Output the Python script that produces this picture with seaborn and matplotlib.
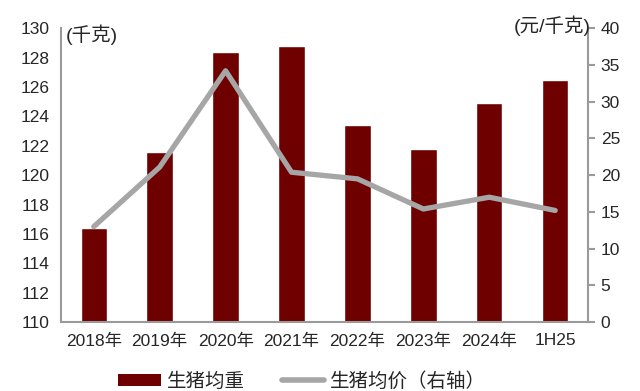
import seaborn as sns
import matplotlib.pyplot as plt
import pandas as pd
from matplotlib.patches import Patch
from matplotlib.lines import Line2D

categories = ['2018年', '2019年', '2020年', '2021年', '2022年', '2023年', '2024年', '1H25']
weight = [116.4, 121.6, 128.4, 128.8, 123.4, 121.8, 124.9, 126.5]   # 生猪均重 (千克)
price = [13.0, 21.1, 34.2, 20.4, 19.5, 15.4, 17.0, 15.2]           # 生猪均价 (元/千克)

bar_color = '#6E0000'
line_color = '#A6A6A6'
axis_color = '#9A9A9A'

sns.set_style('white')
plt.rcParams['font.family'] = ['Liberation Sans', 'Noto Sans CJK SC', 'DejaVu Sans']

df = pd.DataFrame({'cat': categories, 'weight': weight, 'price': price})

fig = plt.figure(figsize=(6.4, 3.91), dpi=100)
ax = fig.add_axes([0.095, 0.176, 0.824, 0.752])
sns.barplot(data=df, x='cat', y='weight', color=bar_color, width=0.4,
            saturation=1, ax=ax)
ax.set_ylim(110, 130)
ax.set_yticks(range(110, 131, 2))
ax.set_xlim(-0.5, len(categories) - 0.5)
ax.set_xlabel('')
ax.set_ylabel('')

ax2 = ax.twinx()
sns.lineplot(data=df, x='cat', y='price', color=line_color, linewidth=3.8,
             sort=False, ax=ax2)
ax2.set_ylim(0, 40)
ax2.set_yticks(range(0, 41, 5))
ax2.set_ylabel('')

for a in (ax, ax2):
    for s in a.spines.values():
        s.set_visible(False)
ax.spines['left'].set_visible(True)
ax.spines['bottom'].set_visible(True)
ax2.spines['right'].set_visible(True)
for s in (ax.spines['left'], ax.spines['bottom'], ax2.spines['right']):
    s.set_color(axis_color)
    s.set_linewidth(1.5)

# x ticks at category boundaries
ax.set_xticks([i - 0.5 for i in range(len(categories) + 1)], minor=True)
ax.tick_params(axis='x', which='minor', length=5, width=1.5, color=axis_color,
               direction='out')
ax.tick_params(axis='x', which='major', length=0, labelsize=12.5, pad=8)
ax.tick_params(axis='y', length=0, labelsize=12.5, pad=8)
ax2.tick_params(axis='y', length=5, width=1.5, color=axis_color,
                labelsize=12.5, pad=4)

fig.text(0.103, 0.91, '(千克)', fontsize=14, va='center', ha='left')
fig.text(0.923, 0.935, '(元/千克)', fontsize=14, va='center', ha='right')

handles = [Patch(facecolor=bar_color, edgecolor='none'),
           Line2D([0], [0], color=line_color, linewidth=4)]
fig.legend(handles, ['生猪均重', '生猪均价（右轴）'], loc='center',
           bbox_to_anchor=(0.472, 0.025), ncol=2, frameon=False, fontsize=14,
           handlelength=2.2, handleheight=0.6, columnspacing=1.9,
           handletextpad=0.3)

fig.savefig('out.png', dpi=100)
